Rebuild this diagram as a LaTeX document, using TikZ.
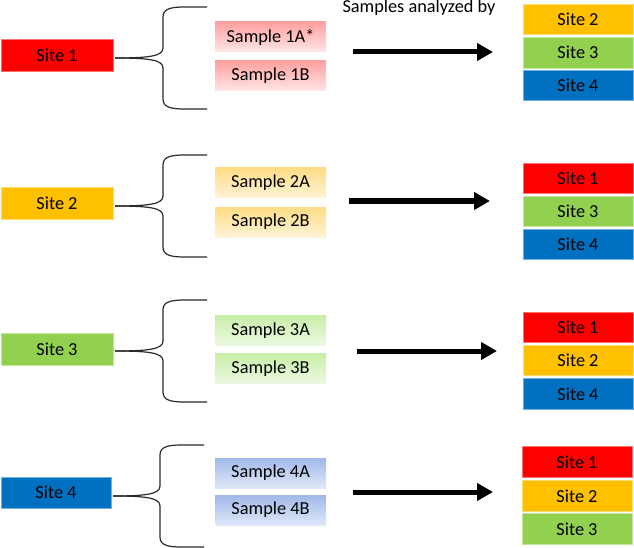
\documentclass[tikz,border=0pt]{standalone}
\usepackage{fontspec}
\setmainfont{Carlito}
\usetikzlibrary{arrows.meta}
\definecolor{cred}{HTML}{FF0000}
\definecolor{cora}{HTML}{FFC000}
\definecolor{cgrn}{HTML}{92D050}
\definecolor{cblu}{HTML}{0070C0}
\definecolor{rtop}{HTML}{FFA0A0}
\definecolor{rbot}{HTML}{FFE6E6}
\definecolor{otop}{HTML}{FFDC85}
\definecolor{obot}{HTML}{FFF3D6}
\definecolor{gtop}{HTML}{C8EEA8}
\definecolor{gbot}{HTML}{EDF9E2}
\definecolor{btop}{HTML}{A0B8E8}
\definecolor{bbot}{HTML}{E0E8F8}
\definecolor{bracecol}{HTML}{2A2A2A}
\tikzset{
  sitebox/.style={minimum width=110pt, minimum height=30.5pt, inner sep=0pt, font=\fontsize{18.3pt}{21pt}\selectfont, text=black},
  leftsite/.style={sitebox, minimum width=112pt, minimum height=32pt},
  samplebox/.style={minimum width=111pt, minimum height=30pt, inner sep=0pt, font=\fontsize{18.3pt}{21pt}\selectfont, text=black},
  redfill/.style={fill=cred, draw=cred!55!white, line width=0.6pt},
  orafill/.style={fill=cora, draw=cora!55!white, line width=0.6pt},
  grnfill/.style={fill=cgrn, draw=cgrn!55!white, line width=0.6pt},
  blufill/.style={fill=cblu, draw=cblu!55!white, line width=0.6pt},
  redshade/.style={top color=rtop, bottom color=rbot},
  orashade/.style={top color=otop, bottom color=obot},
  grnshade/.style={top color=gtop, bottom color=gbot},
  blushade/.style={top color=btop, bottom color=bbot},
  bracestyle/.style={draw=bracecol, line width=1.2pt},
  bigarrow/.style={line width=5pt, -{Triangle[length=16pt,width=17pt]}},
}
\begin{document}
\begin{tikzpicture}[x=1pt,y=-1pt]
\useasboundingbox (0,0) rectangle (634,548);

% header
\node[anchor=base, font=\fontsize{18.3pt}{21pt}\selectfont, inner sep=0pt] (hdr) at (419,13) {Samples analyzed by};

% ---------- Row 1 ----------
\node[leftsite, redfill] (s1) at (57,55) {Site 1};
\node[samplebox, redshade] (p1a) at (270.5,37) {Sample 1A*};
\node[samplebox, redshade] (p1b) at (270.5,76) {Sample 1B};
\coordinate (b1tip) at (115,58);
\coordinate (b1top) at (207,7);
\coordinate (b1bot) at (207,109);
\draw[bracestyle] (b1top) -- (185,7) .. controls (170,7) and (163,9) .. (163,17) -- (163,48)
  .. controls (163,56) and (150,58) .. (b1tip);
\draw[bracestyle] (b1bot) -- (185,109) .. controls (170,109) and (163,107) .. (163,99) -- (163,68)
  .. controls (163,60) and (150,58) .. (b1tip);
\coordinate (a1s) at (353,52);
\coordinate (a1e) at (493,52);
\draw[bigarrow] (a1s) -- (a1e);
\node[sitebox, orafill] (r1a) at (578,19.2) {Site 2};
\node[sitebox, grnfill] (r1b) at (578,52.7) {Site 3};
\node[sitebox, blufill] (r1c) at (578,85.5) {Site 4};

% ---------- Row 2 ----------
\node[leftsite, orafill] (s2) at (57,203) {Site 2};
\node[samplebox, orashade] (p2a) at (270.5,183) {Sample 2A};
\node[samplebox, orashade] (p2b) at (270.5,222) {Sample 2B};
\coordinate (b2tip) at (115,206);
\coordinate (b2top) at (207,155);
\coordinate (b2bot) at (207,257);
\draw[bracestyle] (b2top) -- (185,155) .. controls (170,155) and (163,157) .. (163,165) -- (163,196)
  .. controls (163,204) and (150,206) .. (b2tip);
\draw[bracestyle] (b2bot) -- (185,257) .. controls (170,257) and (163,255) .. (163,247) -- (163,216)
  .. controls (163,208) and (150,206) .. (b2tip);
\coordinate (a2s) at (349,201);
\coordinate (a2e) at (490,201);
\draw[bigarrow] (a2s) -- (a2e);
\node[sitebox, redfill] (r2a) at (578,178.5) {Site 1};
\node[sitebox, grnfill] (r2b) at (578,211.5) {Site 3};
\node[sitebox, blufill] (r2c) at (578,244.5) {Site 4};

% ---------- Row 3 ----------
\node[leftsite, grnfill] (s3) at (57,349) {Site 3};
\node[samplebox, grnshade] (p3a) at (270.5,330.5) {Sample 3A};
\node[samplebox, grnshade] (p3b) at (270.5,368.5) {Sample 3B};
\coordinate (b3tip) at (115,351);
\coordinate (b3top) at (207,300);
\coordinate (b3bot) at (207,402);
\draw[bracestyle] (b3top) -- (185,300) .. controls (170,300) and (163,302) .. (163,310) -- (163,341)
  .. controls (163,349) and (150,351) .. (b3tip);
\draw[bracestyle] (b3bot) -- (185,402) .. controls (170,402) and (163,400) .. (163,392) -- (163,361)
  .. controls (163,353) and (150,351) .. (b3tip);
\coordinate (a3s) at (357,351);
\coordinate (a3e) at (497,351);
\draw[bigarrow] (a3s) -- (a3e);
\node[sitebox, redfill] (r3a) at (578,327.5) {Site 1};
\node[sitebox, orafill] (r3b) at (578,360.5) {Site 2};
\node[sitebox, blufill] (r3c) at (578,394) {Site 4};

% ---------- Row 4 ----------
\node[leftsite, blufill, minimum width=110pt, minimum height=31pt] (s4) at (56,492.5) {Site 4};
\node[samplebox, blushade] (p4a) at (270.5,473) {Sample 4A};
\node[samplebox, blushade] (p4b) at (270.5,510) {Sample 4B};
\coordinate (b4tip) at (113,496);
\coordinate (b4top) at (204,445);
\coordinate (b4bot) at (204,547);
\draw[bracestyle] (b4top) -- (182,445) .. controls (167,445) and (160,447) .. (160,455) -- (160,486)
  .. controls (160,494) and (147,496) .. (b4tip);
\draw[bracestyle] (b4bot) -- (182,547) .. controls (167,547) and (160,545) .. (160,537) -- (160,506)
  .. controls (160,498) and (147,496) .. (b4tip);
\coordinate (a4s) at (353,492);
\coordinate (a4e) at (493,492);
\draw[bigarrow] (a4s) -- (a4e);
\node[sitebox, redfill] (r4a) at (577,462) {Site 1};
\node[sitebox, orafill] (r4b) at (577,496) {Site 2};
\node[sitebox, grnfill] (r4c) at (577,529) {Site 3};
\end{tikzpicture}
\end{document}
